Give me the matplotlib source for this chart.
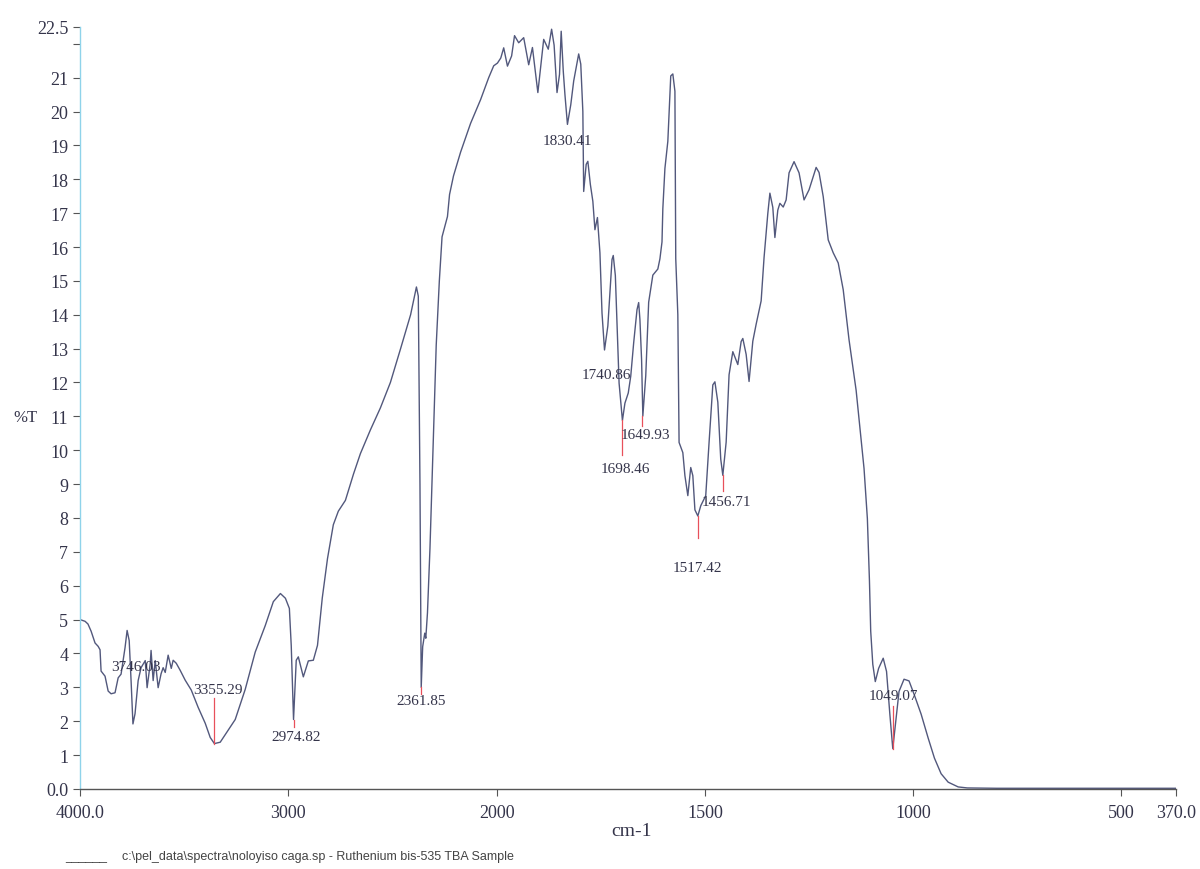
import numpy as np
import matplotlib
matplotlib.use("Agg")
import matplotlib.pyplot as plt

# IR spectrum (wavenumber in cm-1, %T)
wavenumber = [
    4000, 3976, 3962, 3947, 3928, 3913, 3904, 3899, 3880, 3865, 3851, 3832,
    3817, 3803, 3784, 3774, 3764, 3755, 3746, 3736, 3721, 3707, 3687, 3678,
    3663, 3659, 3649, 3639, 3625, 3611, 3601, 3591, 3577, 3562, 3553, 3538,
    3519, 3495, 3466, 3433, 3399, 3375, 3355, 3327, 3298, 3255, 3207, 3159,
    3111, 3072, 3038, 3014, 2995, 2986, 2980, 2975, 2970, 2962, 2952, 2928,
    2904, 2880, 2860, 2837, 2812, 2784, 2760, 2726, 2687, 2654, 2606, 2558,
    2510, 2461, 2413, 2385, 2376, 2368, 2362, 2355, 2345, 2340, 2332, 2320,
    2305, 2290, 2275, 2262, 2236, 2226, 2207, 2173, 2125, 2077, 2038, 2014,
    1998, 1990, 1983, 1974, 1964, 1957, 1947, 1935, 1923, 1914, 1901, 1887,
    1876, 1868, 1862, 1855, 1849, 1845, 1840, 1836, 1830, 1822, 1815, 1803,
    1798, 1793, 1791, 1785, 1781, 1775, 1769, 1764, 1758, 1752, 1747, 1741,
    1733, 1723, 1720, 1715, 1710, 1706, 1698, 1692, 1684, 1678, 1671, 1663,
    1659, 1656, 1652, 1649, 1642, 1635, 1625, 1613, 1608, 1603, 1601, 1596,
    1589, 1582, 1577, 1572, 1570, 1565, 1562, 1553, 1548, 1541, 1534, 1529,
    1524, 1517, 1510, 1498, 1490, 1481, 1476, 1469, 1462, 1457, 1449, 1442,
    1433, 1421, 1413, 1409, 1401, 1394, 1385, 1377, 1365, 1358, 1349, 1344,
    1337, 1332, 1325, 1320, 1312, 1305, 1298, 1286, 1274, 1262, 1250, 1233,
    1226, 1216, 1204, 1192, 1180, 1168, 1154, 1137, 1118, 1110, 1105, 1102,
    1097, 1091, 1083, 1072, 1064, 1056, 1049, 1042, 1034, 1022, 1010, 998,
    981, 964, 949, 933, 916, 892, 870, 800, 600, 370,
]
transmittance = [
    5.00, 4.95, 4.87, 4.66, 4.31, 4.21, 4.11, 3.48, 3.33, 2.89, 2.81, 2.84,
    3.28, 3.39, 4.17, 4.68, 4.38, 3.20, 1.92, 2.22, 3.20, 3.58, 3.79, 2.99,
    3.70, 4.09, 3.20, 3.79, 2.99, 3.40, 3.58, 3.44, 3.95, 3.56, 3.80, 3.71,
    3.50, 3.21, 2.92, 2.41, 1.94, 1.52, 1.34, 1.38, 1.65, 2.05, 2.94, 4.04,
    4.82, 5.53, 5.77, 5.63, 5.33, 4.23, 3.00, 2.05, 2.75, 3.80, 3.90, 3.31,
    3.78, 3.80, 4.24, 5.64, 6.80, 7.80, 8.20, 8.52, 9.30, 9.90, 10.60, 11.25,
    12.00, 13.00, 14.00, 14.82, 14.55, 9.00, 3.00, 4.20, 4.60, 4.45, 5.20, 7.10,
    10.10, 13.10, 15.00, 16.30, 16.90, 17.55, 18.10, 18.80, 19.65, 20.35, 21.00, 21.35,
    21.43, 21.58, 21.88, 21.34, 21.64, 22.24, 22.03, 22.18, 21.38, 21.89, 20.56, 22.13,
    21.84, 22.43, 21.96, 20.56, 21.10, 22.37, 21.19, 20.50, 19.62, 20.20, 20.90, 21.70,
    21.40, 20.00, 17.64, 18.44, 18.53, 17.85, 17.35, 16.51, 16.87, 15.83, 14.05, 12.96,
    13.67, 15.63, 15.75, 15.16, 13.38, 11.98, 10.88, 11.39, 11.69, 12.19, 13.17, 14.15,
    14.36, 13.86, 12.67, 11.01, 12.20, 14.37, 15.17, 15.35, 15.65, 16.15, 17.13, 18.32,
    19.12, 21.05, 21.11, 20.60, 15.66, 14.00, 10.23, 9.93, 9.25, 8.66, 9.49, 9.25,
    8.24, 8.06, 8.36, 8.66, 10.23, 11.93, 12.02, 11.42, 9.74, 9.26, 10.24, 12.23,
    12.91, 12.53, 13.21, 13.30, 12.83, 12.03, 13.22, 13.72, 14.41, 15.69, 16.99, 17.59,
    17.17, 16.28, 17.09, 17.29, 17.18, 17.39, 18.19, 18.52, 18.19, 17.39, 17.69, 18.35,
    18.20, 17.49, 16.21, 15.83, 15.53, 14.74, 13.26, 11.77, 9.46, 7.98, 6.14, 4.66,
    3.68, 3.17, 3.56, 3.86, 3.47, 2.20, 1.19, 1.99, 2.88, 3.24, 3.19, 2.80,
    2.21, 1.50, 0.91, 0.45, 0.20, 0.06, 0.03, 0.02, 0.02, 0.02,
]

# labelled peaks
peak_labels = ["3746.03", "3355.29", "2974.82", "2361.85", "1830.41", "1740.86",
               "1698.46", "1649.93", "1517.42", "1456.71", "1049.07"]
peak_wn = [3746.03, 3355.29, 2974.82, 2361.85, 1830.41, 1740.86,
           1698.46, 1649.93, 1517.42, 1456.71, 1049.07]
peak_t = [1.92, 1.34, 2.05, 3.00, 19.62, 12.96, 10.88, 11.01, 8.06, 9.26, 1.19]

x_ticks = [4000, 3000, 2000, 1500, 1000, 500, 370]
x_ticklabels = ["4000.0", "3000", "2000", "1500", "1000", "500", "370.0"]
y_ticks = list(range(0, 23)) + [22.5]
y_ticklabels = ["0.0"] + [str(i) for i in range(1, 22)] + ["", "22.5"]


# spectrometer scale: 4000-2000 at half the scale of 2000-370
def fwd(x):
    x = np.asarray(x, dtype=float)
    return np.where(x >= 2000, 1000 + x / 2, x)


def inv(u):
    u = np.asarray(u, dtype=float)
    return np.where(u >= 2000, 2 * (u - 1000), u)


serif = "Liberation Serif"
ink = "#34344a"

fig = plt.figure(figsize=(12, 8.7), dpi=100)
ax = fig.add_axes([0.0667, 0.092, 0.913, 0.876])
ax.set_xscale("function", functions=(fwd, inv))
ax.set_xlim(4000, 370)
ax.set_ylim(0, 22.5)

ax.plot(wavenumber, transmittance, color="#52587c", lw=1.0,
        solid_joinstyle="round")

# peak markers and labels: (label dx in cm-1, label %T, red line end %T)
placements = [
    (-14, 3.62, None),
    (-15, 2.95, 2.70),
    (-12, 1.55, 1.82),
    (0, 2.62, 2.80),
    (0, 19.15, None),
    (-4, 12.25, None),
    (-8, 9.45, 9.85),
    (-6, 10.45, 10.72),
    (0, 6.55, 7.40),
    (-8, 8.50, 8.80),
    (-2, 2.75, 2.45),
]
for lab, wn, t, (dx, ty, tl) in zip(peak_labels, peak_wn, peak_t, placements):
    if tl is not None:
        ax.plot([wn, wn], [t, tl], color="#e8505b", lw=0.9)
    ax.text(wn + dx, ty, lab, ha="center", va="center", fontsize=11,
            family=serif, color=ink)

ax.set_xticks(x_ticks)
ax.set_xticklabels(x_ticklabels)
ax.set_yticks(y_ticks)
ax.set_yticklabels(y_ticklabels)
ax.xaxis.set_minor_locator(matplotlib.ticker.NullLocator())
ax.tick_params(axis="both", direction="out", length=5, width=0.8,
               color="#555555", labelsize=13, labelcolor=ink)
ax.tick_params(axis="x", pad=6)
for lbl in ax.get_xticklabels() + ax.get_yticklabels():
    lbl.set_family(serif)

for side in ("top", "right"):
    ax.spines[side].set_visible(False)
ax.spines["left"].set_color("#8fd3ea")
ax.spines["left"].set_linewidth(1.0)
ax.spines["bottom"].set_color("#555555")
ax.spines["bottom"].set_linewidth(1.0)

fig.text(0.021, 0.52, "%T", fontsize=12, family=serif, color=ink,
         ha="center", va="center")
fig.text(0.526, 0.044, "cm-1", fontsize=14, family=serif, color=ink,
         ha="center", va="center")
fig.text(0.054, 0.008, "______", fontsize=9, family="Liberation Sans",
         color="#444444", va="bottom")
fig.text(0.102, 0.015, r"c:\pel_data\spectra\noloyiso caga.sp - Ruthenium bis-535 TBA Sample",
         fontsize=9, family="Liberation Sans", color="#444444", va="center")

fig.savefig("out.png", dpi=100, facecolor="white")
